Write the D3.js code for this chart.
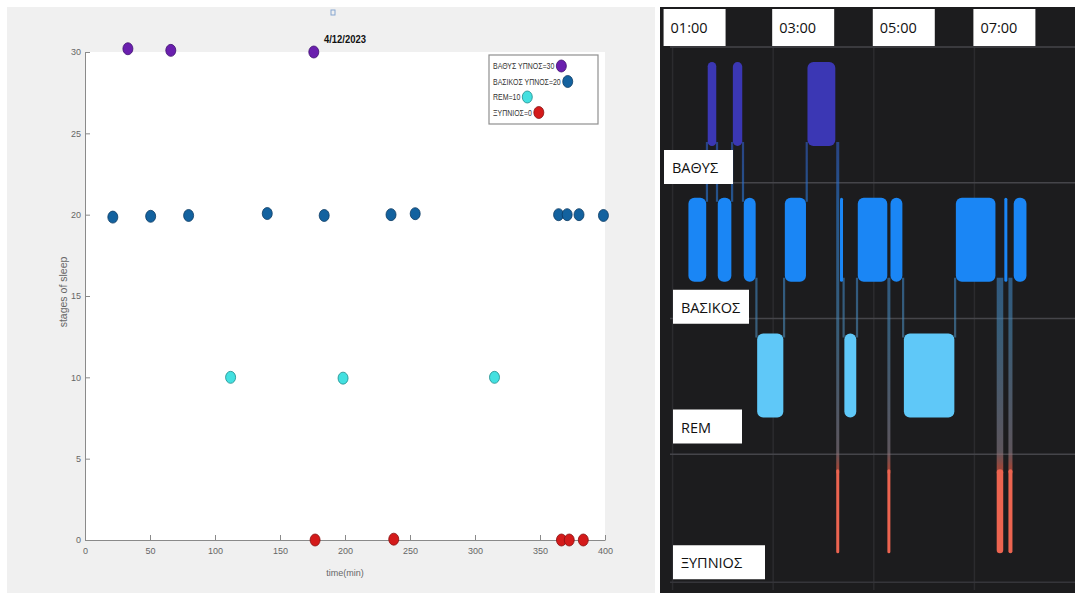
<!DOCTYPE html>
<html>
<head>
<meta charset="utf-8">
<script src="https://cdn.jsdelivr.net/npm/d3@7"></script>
<style>
  html, body { margin: 0; padding: 0; background: #ffffff; }
  svg { display: block; }
</style>
</head>
<body>
<svg id="chart" width="1075" height="593"></svg>
<script>
// ---------------- DATA: left scatter (MATLAB style) ----------------
const chartTitle = "4/12/2023";
const xTickValues = [0, 50, 100, 150, 200, 250, 300, 350, 400];
const yTickValues = [0, 5, 10, 15, 20, 25, 30];

const deepX = [33, 66, 176];
const deepY = [30.2, 30.1, 30.0];
const basicX = [21.4, 50.5, 79.7, 140.2, 184, 235.4, 254, 364.3, 370.9, 380, 398.8];
const basicY = [19.85, 19.9, 19.95, 20.07, 19.95, 20, 20.06, 20, 20, 20, 19.95];
const remX = [112, 198.5, 315];
const remY = [10, 9.95, 10];
const awakeX = [177, 237.5, 366.5, 372.5, 383.3];
const awakeY = [0, 0.05, 0, 0, 0];

const legendLabels = ["ΒΑΘΥΣ ΥΠΝΟΣ=30", "ΒΑΣΙΚΟΣ ΥΠΝΟΣ=20", "REM=10", "ΞΥΠΝΙΟΣ=0"];

// ---------------- DATA: right hypnogram ----------------
const stageNames = ["ΒΑΘΥΣ", "ΒΑΣΙΚΟΣ", "REM", "ΞΥΠΝΙΟΣ"];
const hourLabels = ["01:00", "03:00", "05:00", "07:00"];
const segStart = ["01:18","01:41","01:53","02:11","02:24","02:40","03:13","03:40","04:15","04:19",
                  "04:24","04:40","05:17","05:19","05:35","06:37","07:26","07:35","07:40","07:46"];
const segEndLast = "08:03";
const segStage = ["ΒΑΣΙΚΟΣ","ΒΑΘΥΣ","ΒΑΣΙΚΟΣ","ΒΑΘΥΣ","ΒΑΣΙΚΟΣ","REM","ΒΑΣΙΚΟΣ","ΒΑΘΥΣ","ΞΥΠΝΙΟΣ","ΒΑΣΙΚΟΣ",
                  "REM","ΒΑΣΙΚΟΣ","ΞΥΠΝΙΟΣ","ΒΑΣΙΚΟΣ","REM","ΒΑΣΙΚΟΣ","ΞΥΠΝΙΟΣ","ΒΑΣΙΚΟΣ","ΞΥΠΝΙΟΣ","ΒΑΣΙΚΟΣ"];

// ---------------- LAYOUT ----------------
const svg = d3.select("#chart");
const toMin = s => { const [h, m] = s.split(":").map(Number); return h * 60 + m; };

// left panel background
svg.append("rect").attr("x", 7).attr("y", 7).attr("width", 648).attr("height", 586).attr("fill", "#f0f0f0");

const x = d3.scaleLinear().domain([0, 400]).range([85, 605]);
const y = d3.scaleLinear().domain([0, 30]).range([540, 52]);

svg.append("rect").attr("x", x(0)).attr("y", y(30)).attr("width", x(400) - x(0)).attr("height", y(0) - y(30)).attr("fill", "#ffffff");

const fontAxis = "'Liberation Sans',Arial,sans-serif";

const xAxis = svg.append("g").attr("transform", `translate(0,${y(0)})`)
  .call(d3.axisBottom(x).tickValues(xTickValues).tickSizeInner(-5).tickSizeOuter(0).tickPadding(8));
const yAxis = svg.append("g").attr("transform", `translate(${x(0)},0)`)
  .call(d3.axisLeft(y).tickValues(yTickValues).tickSizeInner(-5).tickSizeOuter(0).tickPadding(4));
[xAxis, yAxis].forEach(g => {
  g.selectAll(".domain").attr("stroke", "#8a8a8a");
  g.selectAll(".tick line").attr("stroke", "#8a8a8a");
  g.selectAll(".tick text").attr("fill", "#666").attr("font-size", 9).attr("font-family", fontAxis);
});

// title
svg.append("text").attr("x", (x(0) + x(400)) / 2).attr("y", 43).attr("text-anchor", "middle")
  .attr("font-family", fontAxis).attr("font-weight", "bold").attr("font-size", 10.5).attr("fill", "#111")
  .attr("transform", `translate(${(x(0) + x(400)) / 2 * 0.1},0) scale(0.9,1)`).text(chartTitle);
// small artifact square at top
svg.append("rect").attr("x", 331).attr("y", 10).attr("width", 4).attr("height", 5)
  .attr("fill", "none").attr("stroke", "#86a6d0").attr("stroke-width", 1);

// axis labels
svg.append("text").attr("x", (x(0) + x(400)) / 2).attr("y", 576).attr("text-anchor", "middle")
  .attr("font-family", fontAxis).attr("font-size", 9).attr("fill", "#666").text("time(min)");
svg.append("text").attr("transform", "translate(67,292) rotate(-90)").attr("text-anchor", "middle")
  .attr("font-family", fontAxis).attr("font-size", 10.5).attr("fill", "#666").text("stages of sleep");

// markers
const seriesStyle = [
  { xs: deepX, ys: deepY, fill: "#6a1fae", stroke: "#3e0f6e" },
  { xs: basicX, ys: basicY, fill: "#13629f", stroke: "#0b3a62" },
  { xs: remX, ys: remY, fill: "#43e0e0", stroke: "#1d8c8c" },
  { xs: awakeX, ys: awakeY, fill: "#d41a1a", stroke: "#861010" }
];
seriesStyle.forEach(s => {
  svg.append("g").selectAll("ellipse").data(s.xs.map((v, i) => [v, s.ys[i]])).join("ellipse")
    .attr("cx", d => x(d[0])).attr("cy", d => y(d[1])).attr("rx", 5).attr("ry", 6)
    .attr("fill", s.fill).attr("stroke", s.stroke).attr("stroke-width", 0.8);
});

// legend
const lg = svg.append("g");
lg.append("rect").attr("x", 489).attr("y", 55).attr("width", 109).attr("height", 69)
  .attr("fill", "#ffffff").attr("stroke", "#8f8f8f").attr("stroke-width", 1.2);
const legSx = 0.82;
legendLabels.forEach((lab, i) => {
  const ty = 69 + i * 15.5;
  const t = lg.append("text").attr("transform", `translate(493,${ty}) scale(${legSx},1)`).attr("font-family", fontAxis)
    .attr("font-size", 8.5).attr("fill", "#333").text(lab);
  const w = t.node().getComputedTextLength() * legSx;
  lg.append("ellipse").attr("cx", 493 + w + 7).attr("cy", ty - 3).attr("rx", 5).attr("ry", 6)
    .attr("fill", seriesStyle[i].fill).attr("stroke", seriesStyle[i].stroke).attr("stroke-width", 0.8);
});

// ---------------- RIGHT PANEL ----------------
const R = { left: 660, right: 1075, top: 7, bottom: 593 };
svg.append("rect").attr("x", R.left).attr("y", R.top).attr("width", R.right - R.left).attr("height", R.bottom - R.top).attr("fill", "#1c1c1e");

const xr = d3.scaleLinear().domain([45, 540]).range([R.left, R.right]);
const band = d3.scaleBand().domain(stageNames).range([47, 590]);
const barOff = 15, barH = 84;
const stageColor = { "ΒΑΘΥΣ": "#3b37b4", "ΒΑΣΙΚΟΣ": "#1a86f5", "REM": "#5fc8f8", "ΞΥΠΝΙΟΣ": "#ec6450" };

// grid
const grid = svg.append("g");
hourLabels.forEach(h => {
  grid.append("line").attr("x1", xr(toMin(h))).attr("x2", xr(toMin(h))).attr("y1", 47).attr("y2", 590)
    .attr("stroke", "#2b2b2e").attr("stroke-width", 1.5);
});
stageNames.forEach(s => {
  grid.append("line").attr("x1", R.left + 10).attr("x2", R.right).attr("y1", band(s)).attr("y2", band(s))
    .attr("stroke", "#45454a").attr("stroke-width", 1.5);
});
grid.append("line").attr("x1", R.left + 10).attr("x2", R.right).attr("y1", band("ΞΥΠΝΙΟΣ") + 128).attr("y2", band("ΞΥΠΝΙΟΣ") + 128)
  .attr("stroke", "#35353a").attr("stroke-width", 1.5);

// segments
const segs = segStart.map((s, i) => ({
  t0: toMin(s),
  t1: toMin(i < segStart.length - 1 ? segStart[i + 1] : segEndLast),
  stage: segStage[i]
}));

// connector gradient
const defs = svg.append("defs");
const grad = defs.append("linearGradient").attr("id", "connGrad").attr("gradientUnits", "userSpaceOnUse")
  .attr("x1", 0).attr("y1", 60).attr("x2", 0).attr("y2", 550);
[[0, "#3b37b4"], [0.3, "#2a7cd6"], [0.55, "#4a88b4"], [0.8, "#8a7c86"], [0.83, "#ec6450"], [1, "#ec6450"]]
  .forEach(([o, c]) => grad.append("stop").attr("offset", o).attr("stop-color", c));

const barTop = st => band(st) + barOff;
const barBot = st => band(st) + barOff + barH;
const idx = st => stageNames.indexOf(st);
const conn = svg.append("g");
segs.slice(0, -1).forEach((s, i) => {
  const n = segs[i + 1];
  if (s.stage === "ΞΥΠΝΙΟΣ" || n.stage === "ΞΥΠΝΙΟΣ") return;
  const xx = xr(n.t0);
  const upper = idx(s.stage) < idx(n.stage) ? s.stage : n.stage;
  const lower = upper === s.stage ? n.stage : s.stage;
  conn.append("line").attr("x1", xx).attr("x2", xx).attr("y1", barBot(upper) - 4).attr("y2", barTop(lower) + 4)
    .attr("stroke", "url(#connGrad)").attr("stroke-width", 2.2).attr("stroke-opacity", 0.6);
});
// stems into awake segments
segs.forEach((s, i) => {
  if (s.stage !== "ΞΥΠΝΙΟΣ") return;
  const x0 = xr(s.t0), x1 = xr(s.t1);
  const w = Math.max(x1 - x0 - 1, 3);
  const prev = segs[i - 1], next = segs[i + 1];
  const upper = [prev, next].filter(Boolean).map(d => idx(d.stage)).reduce((a, b) => Math.min(a, b));
  const y0 = barBot(stageNames[upper]) - 4;
  conn.append("rect").attr("x", (x0 + x1) / 2 - w / 2).attr("y", y0).attr("width", w)
    .attr("height", barTop("ΞΥΠΝΙΟΣ") - y0 + 4).attr("fill", "url(#connGrad)").attr("fill-opacity", 0.6);
});

const bars = svg.append("g");
segs.forEach(s => {
  const x0 = xr(s.t0), x1 = xr(s.t1);
  const awake = s.stage === "ΞΥΠΝΙΟΣ";
  const w = Math.max(x1 - x0 - (awake ? 1 : 1.5), 3);
  const bx = (x0 + x1) / 2 - w / 2;
  bars.append("rect").attr("x", bx).attr("y", barTop(s.stage)).attr("width", w).attr("height", barH)
    .attr("rx", Math.min(6, w / 2)).attr("fill", stageColor[s.stage]);
});

// time label boxes
const labFont = "'Open Sans','Noto Sans',sans-serif";
hourLabels.forEach((h, i) => {
  const bx = xr(toMin(h)) - 1 - (i === 0 ? 8 : 0);
  svg.append("rect").attr("x", bx).attr("y", 9).attr("width", 62).attr("height", 37).attr("fill", "#ffffff");
  svg.append("text").attr("x", bx + 7).attr("y", 33).attr("font-family", labFont).attr("font-size", 14.5)
    .attr("fill", "#111").text(h);
});

// stage label boxes
const stageBoxOffset = { "ΒΑΘΥΣ": 103, "ΒΑΣΙΚΟΣ": 107, "REM": 91, "ΞΥΠΝΙΟΣ": 91 };
const stageBoxWidth = { "ΒΑΘΥΣ": 69, "ΒΑΣΙΚΟΣ": 76, "REM": 69, "ΞΥΠΝΙΟΣ": 92 };
stageNames.forEach((s, i) => {
  const bx = i === 0 ? 664 : 673;
  const by = band(s) + stageBoxOffset[s];
  svg.append("rect").attr("x", bx).attr("y", by).attr("width", stageBoxWidth[s]).attr("height", 34).attr("fill", "#ffffff");
  svg.append("text").attr("x", bx + 8).attr("y", by + 23).attr("font-family", labFont).attr("font-size", 14.5)
    .attr("fill", "#111").text(s);
});
</script>
</body>
</html>
